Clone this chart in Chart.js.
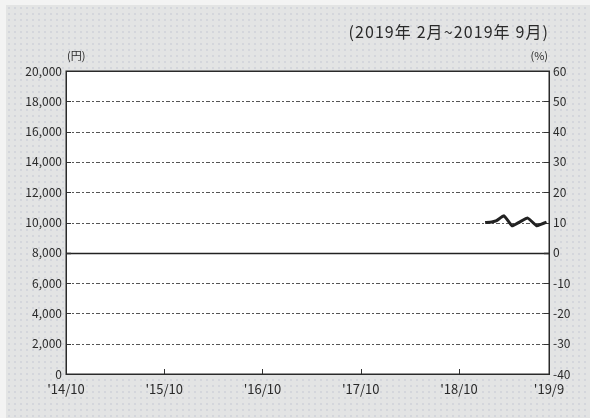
<!DOCTYPE html>
<html>
<head>
<meta charset="utf-8">
<script src="https://cdn.jsdelivr.net/npm/chart.js@4"></script>
<style>
  html,body{margin:0;padding:0;background:#f3f3f3;}
  #wrap{position:relative;width:590px;height:418px;overflow:hidden;}
  #bg{position:absolute;left:6px;top:5px;right:0;bottom:0;background-color:#e3e4e4;
      background-image:radial-gradient(circle,#d4d6dc 0.7px,transparent 1px);background-size:6px 6px;}
  canvas{position:absolute;left:0;top:0;}
  .t{position:absolute;font-family:"Noto Sans CJK JP","Noto Sans",sans-serif;color:#2a2a2a;white-space:nowrap;}
</style>
</head>
<body>
<div id="wrap">
  <div id="bg"></div>
  <canvas id="c" width="590" height="418"></canvas>
  <div class="t" id="title" style="right:41px;top:19px;font-size:16px;letter-spacing:1.1px;">(2019年 2月~2019年 9月)</div>
  <div class="t" style="left:67px;top:47px;font-size:11px;">(円)</div>
  <div class="t" style="right:42px;top:47px;font-size:11px;">(%)</div>
</div>
<script>
// ---- data ----
const xTickValues = [0, 12, 24, 36, 48, 59];
const xTickLabels = ["'14/10", "'15/10", "'16/10", "'17/10", "'18/10", "'19/9"];
const navMonths = [51.2, 52.0, 52.6, 53.5, 54.5, 55.4, 56.4, 57.5, 58.0, 58.7];
const navValues = [10000, 10040, 10120, 10440, 9780, 10030, 10290, 9780, 9880, 10020];
const yenMin = 0, yenMax = 20000, yenStep = 2000;
const pctMin = -40, pctMax = 60, pctStep = 10;

const FONT = '"Noto Sans CJK JP","Noto Sans",sans-serif';

const gridPlugin = {
  id: 'gridPlugin',
  beforeDraw(chart) {
    const {ctx, chartArea: a} = chart;
    ctx.save();
    ctx.fillStyle = '#ffffff';
    ctx.fillRect(a.left, a.top, a.right - a.left, a.bottom - a.top);
    ctx.restore();
  },
  beforeDatasetsDraw(chart) {
    const {ctx, chartArea: a, scales} = chart;
    const ys = scales.y, xs = scales.x;
    ctx.save();
    ys.ticks.forEach(t => {
      if (t.value === yenMin || t.value === yenMax) return;
      const py = Math.round(ys.getPixelForValue(t.value)) + 0.5;
      ctx.beginPath();
      ctx.lineWidth = 1;
      if (t.value === 8000) {
        ctx.setLineDash([]);
        ctx.lineWidth = 1.5;
        ctx.strokeStyle = '#222';
      } else {
        ctx.setLineDash([4, 2, 2, 2]);
        ctx.strokeStyle = '#555';
      }
      ctx.moveTo(a.left, py);
      ctx.lineTo(a.right, py);
      ctx.stroke();
      ctx.setLineDash([]);
      ctx.strokeStyle = '#333';
      ctx.beginPath();
      ctx.moveTo(a.left, py); ctx.lineTo(a.left + 5, py);
      ctx.moveTo(a.right - 5, py); ctx.lineTo(a.right, py);
      ctx.stroke();
    });
    ctx.setLineDash([]);
    ctx.strokeStyle = '#333';
    ctx.lineWidth = 1;
    xs.ticks.forEach(t => {
      if (t.value === xTickValues[0] || t.value === xTickValues[xTickValues.length - 1]) return;
      const px = Math.round(xs.getPixelForValue(t.value)) + 0.5;
      ctx.beginPath();
      ctx.moveTo(px, a.bottom);
      ctx.lineTo(px, a.bottom - 5);
      ctx.stroke();
    });
    ctx.restore();
  },
  afterDatasetsDraw(chart) {
    const {ctx, chartArea: a} = chart;
    ctx.save();
    ctx.strokeStyle = '#2a2a2a';
    ctx.lineWidth = 1.5;
    ctx.strokeRect(Math.round(a.left) + 0.25, Math.round(a.top) + 0.25,
                   Math.round(a.right - a.left), Math.round(a.bottom - a.top));
    ctx.restore();
  }
};

new Chart(document.getElementById('c'), {
  type: 'line',
  data: {
    datasets: [{
      data: navMonths.map((m, i) => ({x: m, y: navValues[i]})),
      borderColor: '#222',
      borderWidth: 3,
      pointRadius: 0,
      tension: 0.12,
      yAxisID: 'y'
    }]
  },
  options: {
    responsive: false,
    animation: false,
    events: [],
    layout: {padding: {top: 71, left: 0, right: 0, bottom: 0}},
    plugins: {legend: {display: false}, tooltip: {enabled: false}},
    scales: {
      x: {
        type: 'linear',
        min: xTickValues[0],
        max: xTickValues[xTickValues.length - 1],
        afterBuildTicks(s) { s.ticks = xTickValues.map(v => ({value: v})); },
        afterFit(s) { s.height = 44; },
        grid: {display: false, drawTicks: false},
        border: {display: false},
        ticks: {
          autoSkip: false, maxRotation: 0, padding: 7,
          color: '#2a2a2a', font: {family: FONT, size: 13},
          callback: (v) => xTickLabels[xTickValues.indexOf(v)]
        }
      },
      y: {
        position: 'left',
        min: yenMin, max: yenMax,
        ticks: {
          stepSize: yenStep, padding: 4, color: '#2a2a2a', font: {family: FONT, size: 12},
          callback: v => v.toLocaleString('en-US')
        },
        afterFit(s) { s.width = 66; },
        grid: {display: false, drawTicks: false},
        border: {display: false}
      },
      y1: {
        position: 'right',
        min: pctMin, max: pctMax,
        ticks: {stepSize: pctStep, padding: 4, color: '#2a2a2a', font: {family: FONT, size: 12}},
        afterFit(s) { s.width = 41; },
        grid: {display: false, drawTicks: false},
        border: {display: false}
      }
    }
  },
  plugins: [gridPlugin]
});
</script>
</body>
</html>
